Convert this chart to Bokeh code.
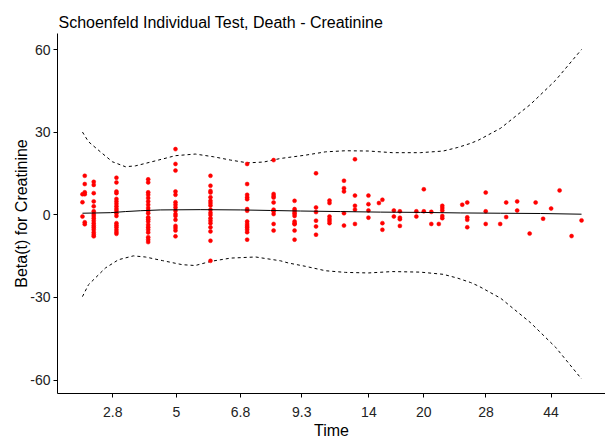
from bokeh.plotting import figure
from bokeh.models import FixedTicker, Range1d
from bokeh.embed import file_html
from bokeh.resources import INLINE

# transformed-time axis (evenly spaced in the km-transformed scale)
tick_pos = [6.07, 18.82, 31.66, 43.95, 57.39, 68.38, 80.84, 93.89]
tick_labels = ["2.8", "5", "6.8", "9.3", "14", "20", "28", "44"]
y_ticks = [-60, -30, 0, 30, 60]
y_tick_labels = ["-60", "-30", "0", "30", "60"]

# Schoenfeld residual columns: transformed time position and residuals
col_x = [0.0, 0.46, 2.26, 6.81, 13.17, 18.64, 25.65, 33.0, 38.3, 42.5,
         46.8, 49.5, 52.4, 54.6, 57.3, 59.4, 60.1, 62.4, 63.6, 66.9,
         68.4, 69.9, 71.4, 72.1, 76.1, 77.1, 80.8, 83.7, 84.9, 87.1,
         89.6, 90.8, 92.3, 93.9, 95.6, 98.0, 100.0]
col_resid = [
    [7.5, 4.6, -0.6],
    [14.2, 11.2, 7.5, 8.2, -2.7, -3.4],
    [12.0, 10.9, 7.9, 4.9, 3.1, 1.3, 0.3, -0.4, -1.2, -2.1, -3.0, -3.9, -4.6, -5.4, -6.4, -7.2, -7.8],
    [13.5, 11.8, 8.5, 7.9, 5.8, 4.9, 4.0, 3.1, 2.2, 1.5, 0.6, -0.4, -3.0, -3.8, -4.5, -5.4, -6.2, -6.9],
    [12.9, 11.8, 8.2, 7.3, 6.1, 4.9, 3.7, 2.5, 1.5, 0.6, -0.9, -1.6, -2.4, -3.6, -4.5, -5.4, -6.4, -8.1, -9.0, -9.9],
    [23.9, 18.5, 16.1, 8.5, 7.3, 4.6, 3.7, 2.7, 1.5, 0.3, -0.4, -1.8, -4.0, -4.8, -5.7, -7.8],
    [14.2, 10.6, 8.7, 8.1, 6.4, 5.1, 4.3, 3.4, 1.9, 0.8, 0.0, -1.2, -2.1, -3.0, -4.5, -6.0, -9.4, -16.7],
    [18.5, 11.2, 7.3, 6.4, 5.7, 2.1, 1.5, -2.4, -3.3, -4.0, -4.6, -5.4, -6.3, -9.0],
    [19.9, 7.6, 6.9, 6.3, 4.5, 1.9, 1.3, 0.3, -3.3, -5.7],
    [5.1, 2.1, 1.5, 0.8, 0.3, -0.4, -2.4, -3.0, -3.4, -5.7, -9.0],
    [15.1, 2.7, 1.0, -2.1, -4.2, -7.2],
    [5.2, 4.3, -0.6, -1.5, -2.2, -3.0],
    [12.4, 9.7, 8.5, 0.6, -3.9],
    [20.2, 7.0, 3.3, 1.9, -3.3],
    [7.0, 3.9, 1.6, -1.0],
    [4.3],
    [5.5, -3.0, -5.4],
    [1.6, -0.6],
    [1.3, -1.0, -1.6, -4.0],
    [1.3, -0.6],
    [9.3, 1.3],
    [1.1, -3.3],
    [-3.3],
    [3.3, 2.5, 1.6, -0.4, -1.2],
    [3.7],
    [4.5, -0.9, -1.8, -4.5],
    [8.1, 1.3, -3.3],
    [-3.3],
    [4.5, -0.8],
    [4.9, 1.6],
    [-6.8],
    [4.5],
    [-1.4],
    [2.3],
    [8.9],
    [-7.7],
    [-2.0],
]

# smoothed beta(t) and its confidence band
fit_x = [0.0, 5.6, 8.6, 11.6, 15.6, 23.6, 31.7, 37.7, 43.7, 51.7, 59.7, 67.7, 75.8, 83.8, 91.8, 100.0]
fit_y = [0.6, 0.8, 1.2, 1.5, 1.8, 1.9, 1.8, 1.6, 1.4, 1.2, 1.0, 0.9, 0.7, 0.6, 0.5, 0.25]

upper_x = [0.0, 1.2, 3.6, 6.0, 8.6, 10.6, 12.6, 15.2, 18.6, 22.6, 26.3, 29.7, 33.1, 36.3, 39.7,
           44.7, 48.7, 52.7, 57.3, 62.1, 67.7, 72.3, 75.2, 77.8, 79.4, 83.8, 89.8, 94.8, 100.0]
upper_y = [30.1, 26.6, 22.9, 19.3, 17.5, 17.8, 18.7, 19.9, 21.5, 22.1, 21.1, 19.9, 18.9, 19.2, 20.5,
           21.7, 22.9, 23.3, 23.2, 22.6, 22.6, 23.2, 24.5, 26.0, 27.2, 31.5, 40.2, 48.9, 60.1]

lower_x = [0.0, 1.2, 4.6, 7.2, 10.2, 12.6, 16.0, 20.0, 22.6, 25.7, 29.7, 34.7, 39.7, 41.3, 44.7,
           48.7, 52.7, 57.3, 62.1, 67.7, 72.3, 75.2, 77.8, 79.4, 83.8, 89.8, 94.8, 100.0]
lower_y = [-29.7, -25.4, -19.3, -16.3, -14.9, -15.3, -16.6, -18.1, -18.4, -16.9, -15.7, -15.3, -16.7, -17.5, -18.7,
           -20.3, -20.9, -21.1, -20.6, -20.8, -21.6, -23.0, -24.6, -25.9, -30.3, -39.2, -48.1, -59.6]

pts_x = [cx for cx, vals in zip(col_x, col_resid) for _ in vals]
pts_y = [v for vals in col_resid for v in vals]

FONT = "Liberation Sans"

p = figure(width=605, height=441, output_backend="svg", toolbar_location=None,
           x_range=Range1d(-5.0, 104.8), y_range=Range1d(-64.9, 65.9),
           title="Schoenfeld Individual Test, Death - Creatinine",
           x_axis_label="Time", y_axis_label="Beta(t) for Creatinine",
           min_border_left=57, min_border_right=0, min_border_top=33, min_border_bottom=0)

p.title.text_font = FONT
p.title.text_font_size = "16px"
p.title.text_font_style = "normal"
p.title.text_color = "black"
p.title.standoff = 6
p.title.offset = 1

p.grid.visible = False
p.outline_line_color = None
p.background_fill_color = "white"
p.border_fill_color = "white"

for ax in (p.xaxis[0], p.yaxis[0]):
    ax.axis_line_color = "black"
    ax.axis_line_width = 1
    ax.major_tick_line_color = "black"
    ax.major_tick_out = 4
    ax.major_tick_in = 0
    ax.minor_tick_line_color = None
    ax.major_label_text_font = FONT
    ax.major_label_text_font_size = "14px"
    ax.major_label_text_color = "#222222"
    ax.axis_label_text_font = FONT
    ax.axis_label_text_font_size = "16px"
    ax.axis_label_text_font_style = "normal"
    ax.axis_label_text_color = "black"

p.yaxis[0].major_label_standoff = 3
p.yaxis[0].axis_label_standoff = -3
p.xaxis[0].major_label_standoff = 9
p.xaxis[0].axis_label_standoff = 2

p.xaxis[0].ticker = FixedTicker(ticks=tick_pos)
p.xaxis[0].major_label_overrides = {t: lab for t, lab in zip(tick_pos, tick_labels)}
p.yaxis[0].ticker = FixedTicker(ticks=y_ticks)
p.yaxis[0].major_label_overrides = {t: lab for t, lab in zip(y_ticks, y_tick_labels)}

p.line(upper_x, upper_y, line_color="black", line_width=1, line_dash="3 3")
p.line(lower_x, lower_y, line_color="black", line_width=1, line_dash="3 3")
p.scatter(pts_x, pts_y, marker="circle", size=4, fill_color="#FF0000", line_color="#FF0000", line_width=0.5)
p.line(fit_x, fit_y, line_color="black", line_width=1)

open("out.html", "w").write(file_html(p, INLINE))
